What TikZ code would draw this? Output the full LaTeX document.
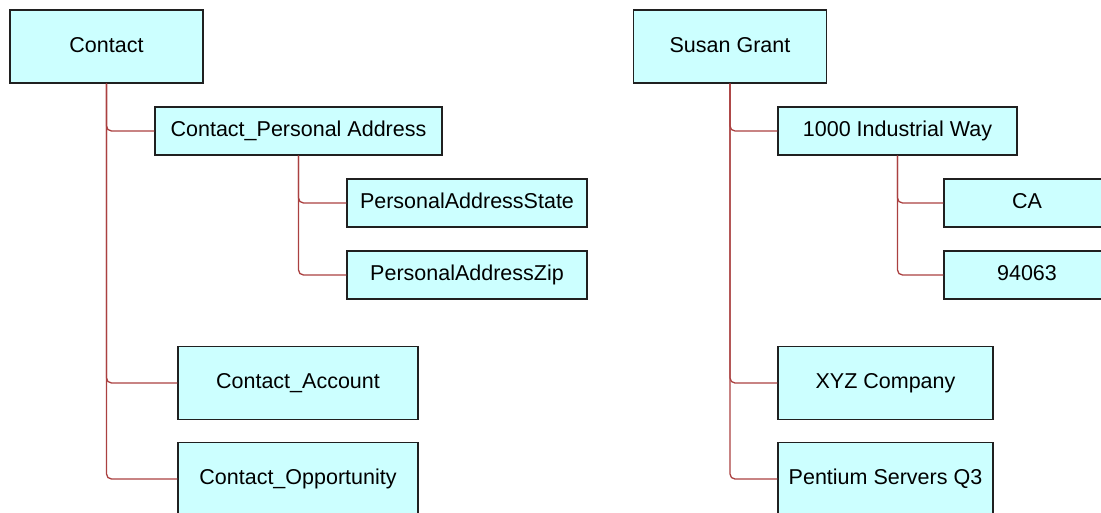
\documentclass[tikz,border=0pt]{standalone}
\usepackage{fontspec}
\setmainfont{Liberation Sans}
\usepackage{tikz}
\definecolor{boxfill}{RGB}{204,255,255}
\definecolor{boxline}{RGB}{32,32,32}
\definecolor{linkred}{RGB}{170,64,64}
\begin{document}
\begin{tikzpicture}[x=1pt,y=-1pt,
    box/.style={draw=boxline,line width=1.4pt,fill=boxfill,inner sep=0pt,
      minimum height=48pt,text height=15pt,text depth=4pt,
      font=\fontsize{21.5}{25}\selectfont},
    bigbox/.style={box,minimum height=73pt},
    link/.style={draw=linkred,line width=1.3pt,rounded corners=5pt}]
    \useasboundingbox (0,0) rectangle (1101,512);
    % left tree
    \node[bigbox,minimum width=193pt] (contact) at (106.5,46.5) {Contact};
    \node[box,minimum width=287pt] (persaddr) at (298.5,131) {Contact\_Personal Address};
    \node[box,minimum width=240pt] (state) at (467,203) {PersonalAddressState};
    \node[box,minimum width=240pt] (zip) at (467,275) {PersonalAddressZip};
    \node[bigbox,minimum width=240pt] (account) at (298,383) {Contact\_Account};
    \node[bigbox,minimum width=240pt] (oppty) at (298,479) {Contact\_Opportunity};
    % right tree
    \node[bigbox,minimum width=193pt] (susan) at (730,46.5) {Susan Grant};
    \node[box,minimum width=239pt] (indway) at (897.5,131) {1000 Industrial Way};
    \node[box,minimum width=166pt] (ca) at (1027,203) {CA};
    \node[box,minimum width=166pt] (zipcode) at (1027,275) {94063};
    \node[bigbox,minimum width=215pt] (xyz) at (885.5,383) {XYZ Company};
    \node[bigbox,minimum width=215pt] (pentium) at (885.5,479) {Pentium Servers Q3};
    % connectors
    \foreach \p/\c in {contact/persaddr,contact/account,contact/oppty,
                       persaddr/state,persaddr/zip,
                       susan/indway,susan/xyz,susan/pentium,
                       indway/ca,indway/zipcode}
      \draw[link] (\p.south) |- (\c.west);
\end{tikzpicture}
\end{document}
